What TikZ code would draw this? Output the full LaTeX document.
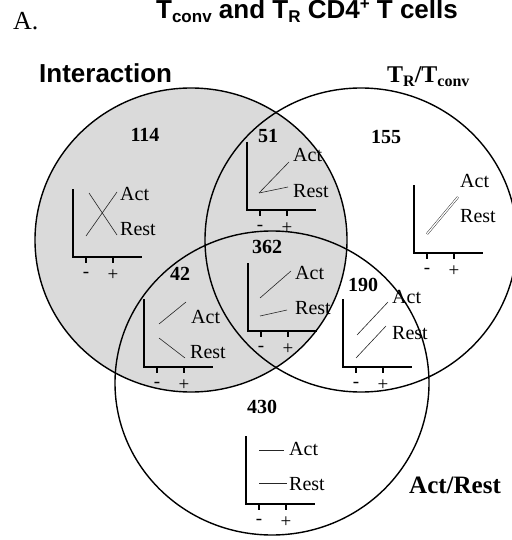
\documentclass[tikz,border=0pt]{standalone}
\usepackage{fontspec}
\setmainfont{Liberation Serif}
\newfontfamily\arialfont{Liberation Sans}
\definecolor{venngray}{RGB}{218,218,218}
\tikzset{
  vennline/.style={line width=1.4pt, draw=black},
  axisline/.style={line width=2pt, draw=black},
  dataline/.style={line width=0.6pt, draw=black!85},
  curvelabel/.style={anchor=base west, inner sep=0pt, font=\fontsize{20}{24}\selectfont},
  countlabel/.style={anchor=base, inner sep=0pt, font=\fontsize{20}{24}\selectfont\bfseries},
  ticklabel/.style={anchor=center, inner sep=0pt, font=\fontsize{19}{22}\selectfont},
  setlabel/.style={anchor=base west, inner sep=0pt},
  miniaxes/.pic={
    \draw[axisline] (0,-68) -- (0,0) -- (69,0);
    \draw[axisline, line width=1.8pt] (13,0) -- (13,6) (40,0) -- (40,6);
    \node[ticklabel] (-minus) at (13,18) {-};
    \node[ticklabel] (-plus) at (40,18) {+};
  }
}
\begin{document}
\begin{tikzpicture}[x=1pt,y=-1pt]
\useasboundingbox (0,0) rectangle (511,540);

% shaded "Interaction" set
\fill[venngray] (191,240) ellipse [x radius=156pt, y radius=152pt];

% headings
\node[anchor=base west, inner sep=0pt, font=\fontsize{26}{30}\selectfont] (panel) at (13,30) {A.};
\node[anchor=base, inner sep=0pt, font=\arialfont\bfseries\fontsize{26}{30}\selectfont] (title) at (307,19)
  {T\raisebox{-4pt}{\fontsize{17}{17}\selectfont conv} and T\raisebox{-4pt}{\fontsize{17}{17}\selectfont R} CD4\raisebox{9pt}{\fontsize{17}{17}\selectfont +} T cells};
\node[setlabel, font=\arialfont\bfseries\fontsize{26}{30}\selectfont] (interaction) at (39,83) {Interaction};
\node[setlabel, font=\bfseries\fontsize{24}{28}\selectfont] (ratio) at (387,83)
  {T\raisebox{-3.5pt}{\fontsize{16}{16}\selectfont R}/T\raisebox{-3.5pt}{\fontsize{16}{16}\selectfont conv}};
\node[setlabel, font=\bfseries\fontsize{25}{29}\selectfont] (actrest) at (409,493) {Act/Rest};

% region counts
\node[countlabel] (c114) at (145,142) {114};
\node[countlabel] (c51)  at (268,143) {51};
\node[countlabel] (c155) at (386,144) {155};
\node[countlabel] (c362) at (267,253) {362};
\node[countlabel] (c42)  at (180,280) {42};
\node[countlabel] (c190) at (363,291) {190};
\node[countlabel] (c430) at (262,413) {430};

% 114: crossing profiles
\pic (p114) at (73,257) {miniaxes};
\draw[dataline] (86,236) -- (117,192);
\draw[dataline] (89,193) -- (117,235);
\node[curvelabel] (a114) at (120,200) {Act};
\node[curvelabel] (r114) at (120,235) {Rest};

% 51
\pic (p51) at (247,210) {miniaxes};
\draw[dataline] (259,193) -- (289,162);
\draw[dataline] (259,193) -- (288,187);
\node[curvelabel] (a51) at (293,161) {Act};
\node[curvelabel] (r51) at (293,197) {Rest};

% 155: parallel, overlapping profiles
\pic (p155) at (414,253) {miniaxes};
\draw[line width=0.45pt, draw=black!85, double=white, double distance=1.3pt] (427,234) -- (458,197);
\node[curvelabel] (a155) at (460,187) {Act};
\node[curvelabel] (r155) at (460,222) {Rest};

% 362
\pic (p362) at (248,331) {miniaxes};
\draw[dataline] (260,298) -- (291,271);
\draw[dataline] (260,316) -- (287,310);
\node[curvelabel] (a362) at (295,279) {Act};
\node[curvelabel] (r362) at (295,314) {Rest};

% 42
\pic (p42) at (144,367) {miniaxes};
\draw[dataline] (159,324) -- (186,302);
\draw[dataline] (159,338) -- (185,358);
\node[curvelabel] (a42) at (191,323) {Act};
\node[curvelabel] (r42) at (190,358) {Rest};

% 190
\pic (p190) at (343,367) {miniaxes};
\draw[dataline] (357,335) -- (388,302);
\draw[dataline] (356,358) -- (386,326);
\node[curvelabel] (a190) at (392,303) {Act};
\node[curvelabel] (r190) at (392,339) {Rest};

% 430: flat profiles
\pic (p430) at (246,504) {miniaxes};
\draw[dataline] (259,450) -- (284,450);
\draw[dataline] (259,483) -- (287,483);
\node[curvelabel] (a430) at (289,455) {Act};
\node[curvelabel] (r430) at (289,490) {Rest};

% set outlines on top
\draw[vennline] (191,240) ellipse [x radius=156pt, y radius=152pt];
\draw[vennline] (361,240) ellipse [x radius=156pt, y radius=152pt];
\draw[vennline] (272,383) ellipse [x radius=157pt, y radius=152pt];
\end{tikzpicture}
\end{document}
